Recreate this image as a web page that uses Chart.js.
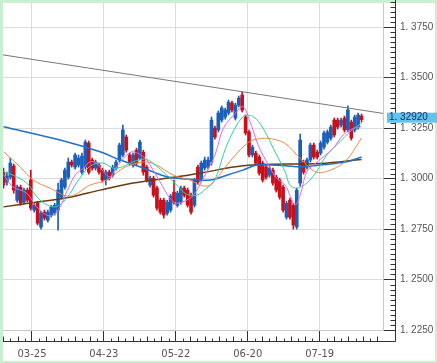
<!DOCTYPE html>
<html>
<head>
<meta charset="utf-8">
<script src="https://cdn.jsdelivr.net/npm/chart.js@4.4.1/dist/chart.umd.min.js"></script>
<style>
html, body { margin: 0; padding: 0; background: #c8efd0; }
canvas { display: block; }
</style>
</head>
<body>
<canvas id="chart" width="437" height="363"></canvas>
<script>
// daily candles, index 0..105
const opens = [
  1.3032,1.2983,1.3007,1.3062,1.2893,1.2958,1.2883,1.2943,1.2993,1.2844,
  1.2878,1.2760,1.2834,1.2794,1.2819,1.2829,1.2844,1.2908,1.2958,1.3007,
  1.3082,1.3057,1.3067,1.3032,1.3057,1.3176,1.3092,1.3052,1.3067,1.3042,
  1.2993,1.3032,1.3017,1.3052,1.3092,1.3117,1.3206,1.3117,1.3067,1.3141,
  1.3102,1.3131,1.3057,1.2968,1.3002,1.2953,1.2893,1.2893,1.2829,1.2844,
  1.2933,1.2868,1.2883,1.2953,1.2943,1.2918,1.2868,1.3057,1.2993,1.3052,
  1.3057,1.3082,1.3250,1.3241,1.3290,1.3305,1.3325,1.3374,1.3300,1.3364,
  1.3414,1.3305,1.3231,1.3117,1.3126,1.3107,1.3077,1.3057,1.3017,1.3042,
  1.3007,1.2993,1.2958,1.2809,1.2893,1.2868,1.2760,1.2978,1.3082,1.3057,
  1.3092,1.3166,1.3131,1.3126,1.3156,1.3181,1.3201,1.3290,1.3290,1.3265,
  1.3300,1.3241,1.3280,1.3241,1.3255,1.3310
];
const highs = [
  1.3052,1.3032,1.3102,1.3072,1.2968,1.2968,1.2953,1.2953,1.3042,1.2878,
  1.2888,1.2839,1.2844,1.2844,1.2868,1.2878,1.2978,1.3002,1.3052,1.3102,
  1.3092,1.3126,1.3117,1.3126,1.3191,1.3186,1.3102,1.3092,1.3077,1.3052,
  1.3042,1.3042,1.3067,1.3092,1.3176,1.3265,1.3216,1.3126,1.3126,1.3151,
  1.3191,1.3141,1.3067,1.3012,1.3012,1.2963,1.2903,1.2903,1.2893,1.2923,
  1.2993,1.2938,1.2963,1.2963,1.2953,1.2928,1.3002,1.3067,1.3087,1.3107,
  1.3107,1.3305,1.3260,1.3335,1.3360,1.3350,1.3389,1.3384,1.3374,1.3409,
  1.3429,1.3315,1.3241,1.3166,1.3136,1.3117,1.3087,1.3067,1.3062,1.3052,
  1.3017,1.3002,1.2968,1.2888,1.2903,1.2878,1.2953,1.3221,1.3092,1.3102,
  1.3176,1.3176,1.3141,1.3186,1.3236,1.3241,1.3265,1.3300,1.3300,1.3300,
  1.3310,1.3360,1.3290,1.3315,1.3325,1.3320
];
const lows = [
  1.2953,1.2968,1.2997,1.2928,1.2883,1.2868,1.2873,1.2883,1.2844,1.2834,
  1.2770,1.2750,1.2794,1.2784,1.2809,1.2819,1.2745,1.2898,1.2948,1.2997,
  1.3057,1.3047,1.3057,1.3022,1.3047,1.3022,1.3042,1.3042,1.3022,1.2983,
  1.2968,1.2993,1.3007,1.3042,1.3082,1.3107,1.3131,1.3067,1.3057,1.3067,
  1.3092,1.3017,1.2983,1.2958,1.2908,1.2844,1.2824,1.2804,1.2819,1.2834,
  1.2873,1.2859,1.2873,1.2908,1.2859,1.2824,1.2859,1.2973,1.2983,1.3042,
  1.3047,1.3067,1.3196,1.3231,1.3280,1.3295,1.3315,1.3330,1.3290,1.3355,
  1.3330,1.3216,1.3107,1.3107,1.3067,1.3017,1.2983,1.2997,1.3007,1.2968,
  1.2933,1.2898,1.2834,1.2799,1.2799,1.2750,1.2750,1.2963,1.3022,1.3047,
  1.3082,1.3097,1.3097,1.3117,1.3146,1.3171,1.3191,1.3206,1.3245,1.3255,
  1.3231,1.3231,1.3191,1.3231,1.3245,1.3280
];
const closes = [
  1.2968,1.3012,1.3077,1.2943,1.2958,1.2878,1.2943,1.2893,1.2854,1.2868,
  1.2779,1.2829,1.2804,1.2834,1.2859,1.2868,1.2943,1.2993,1.3042,1.3082,
  1.3067,1.3117,1.3102,1.3112,1.3181,1.3032,1.3052,1.3082,1.3032,1.2993,
  1.3032,1.3002,1.3057,1.3082,1.3166,1.3241,1.3141,1.3077,1.3117,1.3077,
  1.3181,1.3032,1.2993,1.3002,1.2918,1.2854,1.2834,1.2819,1.2883,1.2913,
  1.2883,1.2928,1.2953,1.2918,1.2868,1.2834,1.2993,1.2983,1.3077,1.3092,
  1.3092,1.3290,1.3206,1.3325,1.3350,1.3340,1.3379,1.3340,1.3364,1.3399,
  1.3340,1.3226,1.3117,1.3156,1.3077,1.3027,1.2993,1.3007,1.3052,1.2978,
  1.2943,1.2908,1.2844,1.2878,1.2809,1.2770,1.2943,1.3191,1.3032,1.3092,
  1.3166,1.3107,1.3107,1.3176,1.3226,1.3231,1.3255,1.3216,1.3255,1.3290,
  1.3241,1.3340,1.3201,1.3305,1.3315,1.3292
];

// moving averages: [candle index, price]
const maPink = [[0,1.3020],[2.8,1.2959],[6.8,1.2928],[9.7,1.2860],[12.7,1.2819],[14.6,1.2819],
  [16.6,1.2860],[18.5,1.2933],[21,1.3017],[23.4,1.3052],[25.4,1.3083],[27.3,1.3077],[29.3,1.3034],
  [31.2,1.3009],[33.2,1.3059],[36.1,1.3117],[38.1,1.3133],[41.5,1.3102],[43,1.3067],[45.9,1.2984],
  [48.8,1.2903],[50.8,1.2878],[53.7,1.2893],[55.7,1.2918],[58.6,1.3002],[62,1.3117],[64.5,1.3250],
  [68.4,1.3331],[70.3,1.3356],[72.3,1.3282],[74.7,1.3166],[77.7,1.3067],[80.1,1.3002],[82.6,1.2968],
  [84,1.2918],[85.5,1.2869],[87,1.2918],[88.9,1.3034],[90.9,1.3067],[93.8,1.3108],[96.7,1.3150],
  [99.6,1.3216],[102.6,1.3249],[105,1.3257]];
const maGreen = [[0,1.3034],[2.8,1.3017],[6.8,1.2978],[10.7,1.2893],[15.1,1.2860],[18.5,1.2903],
  [21.4,1.2978],[25.4,1.3062],[29.2,1.3077],[32.1,1.3052],[35,1.3059],[38,1.3083],[41.5,1.3097],
  [43.8,1.3077],[47.9,1.3017],[50.8,1.2968],[53.7,1.2923],[56.7,1.2918],[59.6,1.2953],[62,1.2993],
  [65.5,1.3166],[70.2,1.3307],[73.2,1.3307],[76.1,1.3250],[80.1,1.3117],[82.6,1.3034],[84,1.2968],
  [86,1.2953],[88.9,1.2978],[91.8,1.3034],[94.8,1.3117],[98.7,1.3183],[101.6,1.3232],[105,1.3275]];
const maOrange = [[0,1.3133],[4.8,1.3059],[8.7,1.2993],[13.6,1.2953],[19.5,1.2913],[25.4,1.2968],
  [30.3,1.2993],[34.2,1.3042],[37.1,1.3067],[41.5,1.3083],[44.9,1.3067],[49.8,1.3017],[54.7,1.2993],
  [57.6,1.2968],[60.6,1.2968],[65.5,1.3067],[70.3,1.3158],[73.2,1.3191],[77.6,1.3199],[82.5,1.3175],
  [86.9,1.3102],[91.8,1.3032],[96.6,1.3047],[100.6,1.3092],[105,1.3201]];
const maBlue = [[0,1.3257],[16.6,1.3191],[28.3,1.3133],[34.2,1.3092],[40,1.3059],[47.9,1.3009],
  [53.7,1.2998],[60.6,1.2993],[65.5,1.3017],[70.2,1.3042],[74.3,1.3067],[82.6,1.3064],[87,1.3059],
  [92.8,1.3067],[100.6,1.3083],[105,1.3107]];
const maBrown = [[0,1.2860],[8.7,1.2881],[19.5,1.2908],[28.3,1.2943],[38,1.2978],[47.9,1.3002],
  [57.6,1.3027],[70.2,1.3064],[82.6,1.3072],[92.8,1.3075],[105,1.3095]];
const trendLine = [[-0.15,1.3613],[111.3,1.3323]];

const dateLabels = ['03-25', '04-23', '05-22', '06-20', '07-19'];
const datePos = [8.35, 29.44, 50.53, 71.63, 92.73];
const yTicks = [1.225, 1.25, 1.275, 1.3, 1.325, 1.35, 1.375];
const lastPrice = 1.3292;

const upColor = '#1b5fb8';
const downColor = '#c8101c';
const candleColors = opens.map((o, i) => closes[i] >= o ? upColor : downColor);

function pts(arr) {
    return arr.map(p => ({ x: p[0], y: p[1] }));
}
function maLine(arr, color, width) {
    return {
        type: 'line',
        data: pts(arr),
        borderColor: color,
        borderWidth: width,
        pointRadius: 0,
        tension: 0.35,
        fill: false,
        order: 2
    };
}

const rulerPlugin = {
    id: 'ruler',
    beforeDraw(chart) {
        const c = chart.ctx;
        c.save();
        c.fillStyle = '#c8efd0';
        c.fillRect(0, 0, chart.width, chart.height);
        c.fillStyle = '#ffffff';
        c.fillRect(3, 3, 432, 358);
        c.restore();
    },
    afterDraw(chart) {
        const c = chart.ctx;
        const xs = chart.scales.x;
        const ys = chart.scales.y;
        const area = chart.chartArea;
        const rx = area.right + 12.5;
        const by = area.bottom + 11.5;
        c.save();
        c.strokeStyle = '#333';
        c.lineWidth = 1;
        c.beginPath();
        c.moveTo(rx, 0);
        c.lineTo(rx, by);
        c.moveTo(area.left, by);
        c.lineTo(rx, by);
        // minor ticks on price ruler
        for (let k = 0; k <= 66; k++) {
            const v = ys.min + k * 0.0025;
            if (k % 10 === 0) continue;
            const py = Math.round(ys.getPixelForValue(v)) + 0.5;
            if (py < 0) continue;
            c.moveTo(rx - 5, py);
            c.lineTo(rx, py);
        }
        // minor ticks on date ruler
        const step = datePos[1] - datePos[0];
        for (let k = -10; k <= 60; k++) {
            if (k % 10 === 0) continue;
            const v = datePos[0] + k * step / 10;
            const px = Math.round(xs.getPixelForValue(v)) + 0.5;
            if (px < area.left || px > area.right) continue;
            const h = (k % 2 === 0) ? 5 : 3;
            c.moveTo(px, by - h);
            c.lineTo(px, by);
        }
        c.stroke();

        // last price box
        const py = ys.getPixelForValue(lastPrice);
        c.fillStyle = '#5ec5f0';
        c.fillRect(area.right + 4, py - 7, 60, 10);
        c.fillStyle = '#1a2a5a';
        c.font = '10px "Liberation Sans"';
        c.textBaseline = 'middle';
        c.textAlign = 'left';
        c.fillText('1. 32920', area.right + 6, py - 2);
        c.restore();
    }
};

const ctx = document.getElementById('chart').getContext('2d');
new Chart(ctx, {
    type: 'bar',
    data: {
        datasets: [
            {
                type: 'line',
                data: pts(trendLine),
                borderColor: '#777777',
                borderWidth: 1,
                pointRadius: 0,
                order: 1
            },
            maLine(maPink, '#e46ae0', 1),
            maLine(maGreen, '#30d49a', 1),
            maLine(maOrange, '#f0884a', 1),
            maLine(maBlue, '#1f6fd0', 1.5),
            maLine(maBrown, '#6b3a0e', 1.5),
            {
                data: opens.map((o, i) => ({ x: i, y: [o, closes[i]] })),
                backgroundColor: candleColors,
                barThickness: 3,
                grouped: false,
                order: 3
            },
            {
                data: lows.map((l, i) => ({ x: i, y: [l, highs[i]] })),
                backgroundColor: candleColors,
                barThickness: 1,
                grouped: false,
                order: 4
            }
        ]
    },
    options: {
        responsive: false,
        devicePixelRatio: 1,
        animation: false,
        events: [],
        layout: { padding: { left: 3, top: 3, right: 2, bottom: 2 } },
        plugins: {
            legend: { display: false },
            tooltip: { enabled: false }
        },
        scales: {
            x: {
                type: 'linear',
                min: -0.15,
                max: 111.3,
                offset: false,
                afterFit: s => { s.height = 31; s.paddingLeft = 0; s.paddingRight = 0; },
                afterBuildTicks: s => { s.ticks = datePos.map(v => ({ value: v })); },
                ticks: {
                    callback: (v, i) => dateLabels[i],
                    color: '#555',
                    font: { family: 'DejaVu Sans', size: 10 },
                    padding: 6,
                    maxRotation: 0,
                    autoSkip: false
                },
                grid: { color: '#dcdcdc', tickLength: 12, tickColor: '#333', offset: false },
                border: { color: '#c8c8c8' }
            },
            y: {
                position: 'right',
                min: 1.225,
                max: 1.387,
                afterFit: s => { s.width = 52; s.paddingTop = 0; s.paddingBottom = 0; },
                afterBuildTicks: s => { s.ticks = yTicks.map(v => ({ value: v })); },
                ticks: {
                    callback: v => v.toFixed(4).replace('.', '. '),
                    color: '#555',
                    font: { family: 'Liberation Sans', size: 10 },
                    padding: 5
                },
                grid: { color: '#dcdcdc', tickLength: 12, tickColor: '#333' },
                border: { color: '#c8c8c8' }
            }
        }
    },
    plugins: [rulerPlugin]
});
</script>
</body>
</html>
